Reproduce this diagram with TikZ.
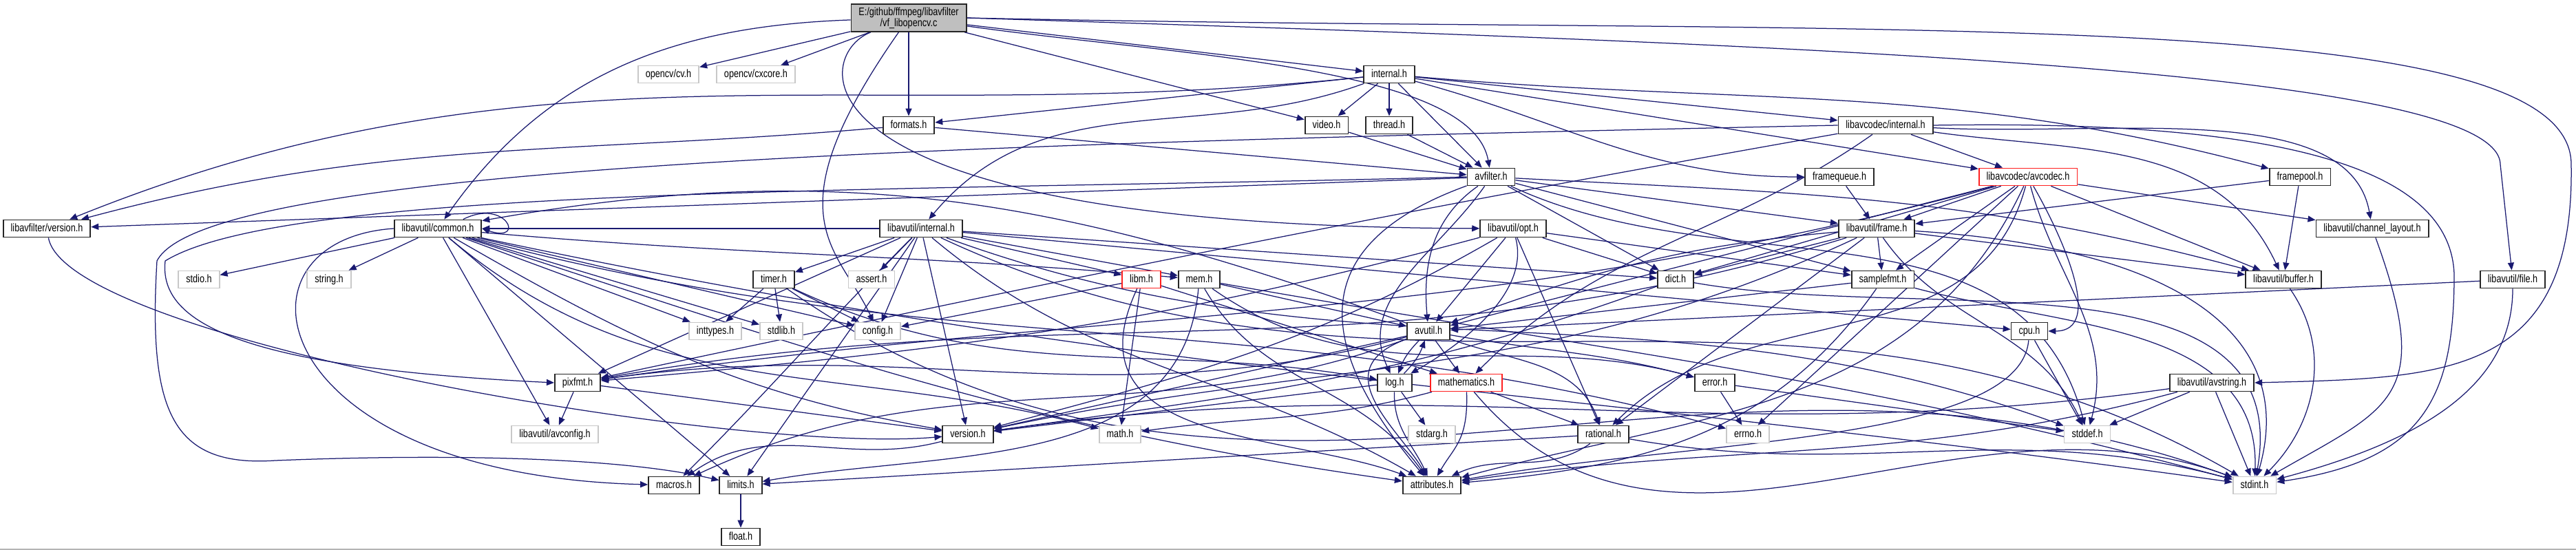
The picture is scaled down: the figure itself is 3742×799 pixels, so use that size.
\documentclass[tikz,border=0pt]{standalone}
\usepackage{fontspec}
\newfontfamily\dotfont[FakeStretch=0.79]{Liberation Sans}
\usepackage{xcolor}
\usepackage{tikz}
\usetikzlibrary{arrows.meta,backgrounds}
\definecolor{edgeblue}{HTML}{191970}
\definecolor{rootgray}{HTML}{BFBFBF}
\definecolor{sysgray}{HTML}{C8C8C8}
\definecolor{truncred}{HTML}{FF2020}
\definecolor{rulegray}{HTML}{B4B4B4}

\begin{document}
\begin{tikzpicture}[
  x=0.2pt,y=0.2pt,
  hdr/.style={draw=black!85,fill=white,line width=0.36pt,minimum height=5pt,
    inner xsep=2.2pt,inner ysep=0pt,text height=2.4pt,text depth=0.7pt,
    font=\dotfont\fontsize{3.2}{3.2}\selectfont},
  syshdr/.style={hdr,draw=sysgray},
  trunchdr/.style={hdr,draw=truncred},
  mainhdr/.style={draw=black!85,fill=rootgray,line width=0.36pt,align=center,
    inner xsep=2.2pt,inner ysep=0.9pt,font=\dotfont\fontsize{3.2}{3.2}\selectfont},
  dep/.style={-{Triangle[length=2.2pt,width=1.8pt]},draw=edgeblue,line width=0.25pt}
]
\useasboundingbox (0,0) rectangle (3742,799);

% rows from top to bottom
\node[mainhdr] (vf) at (1320,773) {E:/github/ffmpeg/libavfilter\\/vf\_libopencv.c};
\node[syshdr] (cvh) at (971,691) {opencv/cv.h};
\node[syshdr] (cxcore) at (1098,691) {opencv/cxcore.h};
\node[hdr] (internal) at (2018,691) {internal.h};

\node[hdr] (formats) at (1320,617) {formats.h};
\node[hdr] (video) at (1927,617) {video.h};
\node[hdr] (thread) at (2018,617) {thread.h};
\node[hdr] (lavcint) at (2739,617) {libavcodec/internal.h};

\node[hdr] (avfilter) at (2166,542) {avfilter.h};
\node[hdr] (fqueue) at (2672,542) {framequeue.h};
\node[trunchdr] (avcodec) at (2946,542) {libavcodec/avcodec.h};
\node[hdr] (fpool) at (3341,542) {framepool.h};

\node[hdr] (lavfver) at (68,467) {libavfilter/version.h};
\node[hdr] (common) at (636,467) {libavutil/common.h};
\node[hdr] (lavuint) at (1338,467) {libavutil/internal.h};
\node[hdr] (opt) at (2198,467) {libavutil/opt.h};
\node[hdr] (frame) at (2726,467) {libavutil/frame.h};
\node[hdr] (chlayout) at (3446,467) {libavutil/channel\_layout.h};

\node[syshdr] (stdio) at (289,393) {stdio.h};
\node[syshdr] (string) at (478,393) {string.h};
\node[hdr] (timer) at (1124,393) {timer.h};
\node[syshdr] (assert) at (1266,393) {assert.h};
\node[trunchdr] (libm) at (1658,393) {libm.h};
\node[hdr] (mem) at (1742,393) {mem.h};
\node[hdr] (dict) at (2434,393) {dict.h};
\node[hdr] (samplefmt) at (2735,393) {samplefmt.h};
\node[hdr] (buffer) at (3317,393) {libavutil/buffer.h};
\node[hdr] (lavufile) at (3650,393) {libavutil/file.h};

\node[syshdr] (inttypes) at (1039,318) {inttypes.h};
\node[syshdr] (stdlib) at (1135,318) {stdlib.h};
\node[syshdr] (config) at (1275,318) {config.h};
\node[hdr] (avutil) at (2075,318) {avutil.h};
\node[hdr] (cpu) at (2948,318) {cpu.h};

\node[hdr] (pixfmt) at (839,243) {pixfmt.h};
\node[hdr] (log) at (2026,243) {log.h};
\node[trunchdr] (mathematics) at (2130,243) {mathematics.h};
\node[hdr] (error) at (2491,243) {error.h};
\node[hdr] (avstring) at (3213,243) {libavutil/avstring.h};

\node[syshdr] (avconfig) at (806,168) {libavutil/avconfig.h};
\node[hdr] (version) at (1406,168) {version.h};
\node[syshdr] (math) at (1627,168) {math.h};
\node[syshdr] (stdarg) at (2080,168) {stdarg.h};
\node[hdr] (rational) at (2329,168) {rational.h};
\node[syshdr] (errno) at (2539,168) {errno.h};
\node[syshdr] (stddef) at (3032,168) {stddef.h};

\node[hdr] (macros) at (979,94) {macros.h};
\node[hdr] (limits) at (1076,94) {limits.h};
\node[hdr] (attributes) at (2080,94) {attributes.h};
\node[syshdr] (stdint) at (3275,94) {stdint.h};
\node[hdr] (float) at (1076,19) {float.h};

\begin{scope}[on background layer]
\fill[white] (0,0) rectangle (3742,799);

% vf_libopencv.c
\draw[dep] (vf) -- (cvh);
\draw[dep] (vf) -- (cxcore);
\draw[dep] (vf) to[out=182,in=55] (common);
\draw[dep] (vf) -- (formats);
\draw[dep] (vf) to[out=235,in=115,out distance=66pt,in distance=24pt] (config);
\draw[dep] (vf) -- (video);
\draw[dep] (vf) -- (internal);
\draw[dep] (vf) to[out=-8,in=100,in distance=30pt] (avfilter);
\draw[dep] (vf) .. controls (1180,720) and (1130,470) .. (opt);
\draw[dep] (vf.east) .. controls (2700,745) and (3735,800) .. (3735,560) .. controls (3740,250) and (3550,250) .. (avstring.east);
\draw[dep] (vf.east) .. controls (2600,735) and (3630,700) .. (3632,560) -- (lavufile);

% internal.h
\draw[dep] (internal) -- (formats);
\draw[dep] (internal) -- (video);
\draw[dep] (internal) -- (thread);
\draw[dep] (internal) -- (avfilter);
\draw[dep] (internal) -- (lavcint);
\draw[dep] (internal) -- (avcodec);
\draw[dep] (internal) to[out=-5,in=165] (fpool);
\draw[dep] (internal) to[out=-15,in=180] (fqueue);
\draw[dep] (internal) to[out=200,in=50] (lavuint);
\draw[dep] (internal) to[out=186,in=22] (lavfver);

\draw[dep] (formats) -- (avfilter);
\draw[dep] (formats) to[out=185,in=15] (lavfver);
\draw[dep] (video) -- (avfilter);
\draw[dep] (thread) -- (avfilter);
\draw[dep] (fqueue) -- (frame);
\draw[dep] (fpool) -- (frame);
\draw[dep] (fpool) -- (buffer);

% avfilter.h
\draw[dep] (avfilter) -- (lavfver);
\draw[dep] (avfilter) to[out=-25,in=105] (stddef);
\draw[dep] (avfilter) to[out=200,in=130,out distance=50pt,in distance=50pt] (attributes);
\draw[dep] (avfilter) to[out=215,in=95] (avutil);
\draw[dep] (avfilter) to[out=-3,in=165] (buffer);
\draw[dep] (avfilter) -- (dict);
\draw[dep] (avfilter) -- (frame);
\draw[dep] (avfilter) to[out=235,in=115] (log);
\draw[dep] (avfilter) -- (samplefmt);
\draw[dep] (avfilter.west) .. controls (1300,520) and (420,530) .. (240,420) .. controls (230,330) and (350,265) .. (pixfmt.west);

% libavcodec/internal.h
\draw[dep] (lavcint) -- (avcodec);
\draw[dep] (lavcint) to[out=-8,in=115] (buffer);
\draw[dep] (lavcint) to[out=-3,in=100,in distance=36pt] (chlayout);
\draw[dep] (lavcint.east) .. controls (3300,625) and (3560,560) .. (3565,400) .. controls (3565,220) and (3520,130) .. (stdint);
\draw[dep] (lavcint) to[out=190,in=12] (pixfmt);
\draw[dep] (lavcint) to[out=215,in=45] (mathematics);
\draw[dep] (lavcint.west) .. controls (1400,590) and (300,560) .. (228,420) .. controls (215,200) and (250,120) .. (400,130) .. controls (650,140) and (900,135) .. (limits);

% libavcodec/avcodec.h
\draw[dep] (avcodec) -- (errno);
\draw[dep] (avcodec) -- (samplefmt);
\draw[dep] (avcodec) to[out=245,in=15] (attributes);
\draw[dep] (avcodec) -- (avutil);
\draw[dep] (avcodec) -- (buffer);
\draw[dep] (avcodec) to[out=-60,in=0] (cpu);
\draw[dep] (avcodec) -- (chlayout);
\draw[dep] (avcodec) -- (dict);
\draw[dep] (avcodec) -- (frame);
\draw[dep] (avcodec) to[out=195,in=8] (pixfmt);
\draw[dep] (avcodec) to[out=255,in=45] (rational);
\draw[dep] (avcodec) to[out=-75,in=75] (stddef);

% libavutil/internal.h
\draw[dep] (lavuint) -- (common);
\draw[dep] (lavuint) to[out=235,in=55] (limits);
\draw[dep] (lavuint) to[out=-25,in=150] (stdint);
\draw[dep] (lavuint) to[out=-20,in=160] (stddef);
\draw[dep] (lavuint) -- (assert);
\draw[dep] (lavuint) -- (config);
\draw[dep] (lavuint) to[out=-40,in=150] (attributes);
\draw[dep] (lavuint) -- (timer);
\draw[dep] (lavuint) -- (cpu);
\draw[dep] (lavuint) -- (dict);
\draw[dep] (lavuint) to[out=225,in=45] (macros);
\draw[dep] (lavuint) -- (mem);
\draw[dep] (lavuint) -- (pixfmt);
\draw[dep] (lavuint) -- (version);
\draw[dep] (lavuint) -- (libm);

% libavutil/common.h
\draw[dep] (common.20) .. controls (735,512) and (765,445) .. (common.east);
\draw[dep] (common) -- (stdio);
\draw[dep] (common) -- (string);
\draw[dep] (common) -- (inttypes);
\draw[dep] (common) -- (stdlib);
\draw[dep] (common) -- (config);
\draw[dep] (common) to[out=-5,in=175] (mem);
\draw[dep] (common) -- (avconfig);
\draw[dep] (common) -- (limits);
\draw[dep] (common.west) .. controls (320,450) and (380,110) .. (macros);
\draw[dep] (common) to[out=-40,in=165] (math);
\draw[dep] (common) to[out=-30,in=170] (version);
\draw[dep] (common) to[out=-15,in=165] (errno);
\draw[dep] (common) to[out=-18,in=172] (attributes);
\draw[dep] (common) to[out=-12,in=172] (stdint);

% libavutil/opt.h
\draw[dep] (opt) -- (rational);
\draw[dep] (opt) -- (avutil);
\draw[dep] (opt) -- (dict);
\draw[dep] (opt) to[out=285,in=30,in distance=8pt] (log);
\draw[dep] (opt) to[out=195,in=5] (pixfmt);
\draw[dep] (opt) -- (samplefmt);
\draw[dep] (opt) to[out=210,in=15] (version);

% libavutil/frame.h
\draw[dep] (frame) to[out=-55,in=115] (stddef);
\draw[dep] (frame) .. controls (3150,440) and (3340,320) .. (stdint);
\draw[dep] (frame) to[out=185,in=20] (avutil);
\draw[dep] (frame) -- (buffer);
\draw[dep] (frame) -- (dict);
\draw[dep] (frame) -- (rational);
\draw[dep] (frame) -- (samplefmt);
\draw[dep] (frame) to[out=197,in=10] (pixfmt);
\draw[dep] (frame) to[out=205,in=12] (version);
\draw[dep] (chlayout) to[out=-70,in=30,out distance=50pt,in distance=40pt] (stdint);

% remaining libavutil headers
\draw[dep] (timer) -- (inttypes);
\draw[dep] (timer) -- (stdlib);
\draw[dep] (timer) -- (config);
\draw[dep] (timer) to[out=-25,in=170] (log);
\draw[dep] (timer) to[out=-35,in=160] (stdint);
\draw[dep] (libm) -- (config);
\draw[dep] (libm) -- (math);
\draw[dep] (libm) to[out=245,in=160,out distance=50pt] (attributes);
\draw[dep] (libm) -- (mathematics);
\draw[dep] (mem) to[out=265,in=10] (limits);
\draw[dep] (mem) to[out=-10,in=165] (stdint);
\draw[dep] (mem) to[out=-60,in=125] (attributes);
\draw[dep] (mem) to[out=-35,in=165] (error);
\draw[dep] (mem) -- (avutil);
\draw[dep] (dict) to[out=-10,in=80] (stdint);
\draw[dep] (dict) to[out=200,in=8] (version);
\draw[dep] (samplefmt) to[out=-15,in=88] (stdint);
\draw[dep] (samplefmt) -- (avutil);
\draw[dep] (samplefmt) to[out=235,in=5] (attributes);
\draw[dep] (buffer) to[out=-55,in=45] (stdint);
\draw[dep] (lavufile) -- (avutil);
\draw[dep] (lavufile) to[out=-90,in=15,out distance=30pt,in distance=40pt] (stdint);

\draw[dep] (avutil) to[out=160,in=10] (common);
\draw[dep] (avutil) to[out=-10,in=165] (error);
\draw[dep] (avutil) to[out=-20,in=110] (rational);
\draw[dep] (avutil) -- (version);
\draw[dep] (avutil) to[out=200,in=25] (macros);
\draw[dep] (avutil) -- (mathematics);
\draw[dep] (avutil) to[bend right=12] (log);
\draw[dep] (avutil) to[out=195,in=8] (pixfmt);
\draw[dep] (avutil) to[out=200,in=120,out distance=26pt] (attributes);
\draw[dep] (cpu) to[out=265,in=10,out distance=30pt] (attributes);
\draw[dep] (cpu) -- (stddef);
\draw[dep] (pixfmt) -- (avconfig);
\draw[dep] (pixfmt) -- (version);
\draw[dep] (log) to[bend right=12] (avutil);
\draw[dep] (log) -- (stdarg);
\draw[dep] (log) to[out=268,in=115] (attributes);
\draw[dep] (log) -- (version);
\draw[dep] (mathematics) to[out=-50,in=160] (stdint);
\draw[dep] (mathematics) to[out=195,in=8] (math);
\draw[dep] (mathematics) to[out=272,in=60,out distance=14pt,in distance=9.8pt] (attributes);
\draw[dep] (mathematics) -- (rational);
\draw[dep] (error) -- (errno);
\draw[dep] (error) -- (stddef);
\draw[dep] (avstring) -- (stddef);
\draw[dep] (avstring) -- (stdint);
\draw[dep] (avstring) to[out=195,in=8] (attributes);
\draw[dep] (avstring) to[out=188,in=8] (version);
\draw[dep] (rational) to[out=-10,in=165] (stdint);
\draw[dep] (rational) -- (limits);
\draw[dep] (rational) to[out=215,in=25] (attributes);
\draw[dep] (version) to[out=195,in=35] (macros);
\draw[dep] (lavfver) to[out=-80,in=185,out distance=30pt,in distance=60pt] (version);
\draw[dep] (limits) -- (float);
\end{scope}

\draw[rulegray,line width=0.4pt] (0,1) -- (3742,1);
\end{tikzpicture}
\end{document}
